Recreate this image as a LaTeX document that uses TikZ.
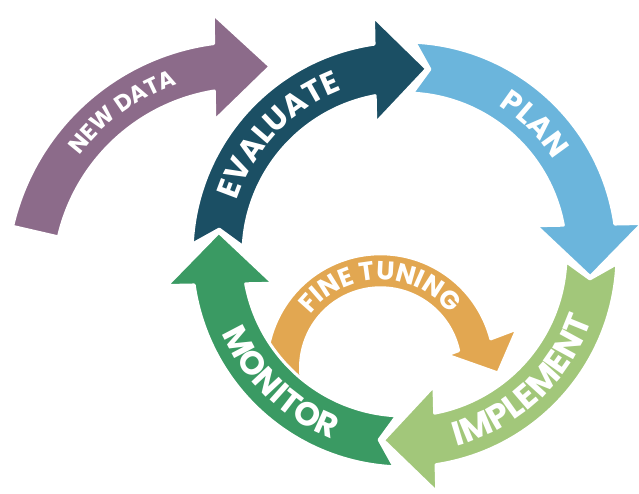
\documentclass[tikz,border=0pt]{standalone}
\usepackage{fontspec}
\newfontfamily\lblfont{Poppins}
\usetikzlibrary{calc,decorations.text}
\definecolor{cpurple}{HTML}{8C6B8A}
\definecolor{cteal}{HTML}{1B4F64}
\definecolor{cblue}{HTML}{6BB5DC}
\definecolor{clgreen}{HTML}{A2C77A}
\definecolor{cgreen}{HTML}{3A9A63}
\definecolor{corange}{HTML}{E2A751}
\tikzset{
  arrowedge/.style={draw=white, line width=3pt, line join=round},
  arclabel/.style n args={2}{decorate, decoration={text along path, text align=center, text color=white,
      text={|\lblfont\bfseries\fontsize{#1}{#1}\selectfont|#2}}}
}
% #1 colour, #2 centre, #3 R, #4 half width, #5 head half width, #6 head angle, #7 tip angle, #8 tail angle, #9 notch angle
\newcommand\ringarrow[9]{%
  \pgfmathsetmacro\ro{#3+#4}%
  \pgfmathsetmacro\ri{#3-#4}%
  \pgfmathsetmacro\bs{#7+#6}%
  \pgfmathsetmacro\bm{#7+#6/2}%
  \pgfmathsetmacro\bn{#7+#6/2+180}%
  \pgfmathsetmacro\oe{\bs-deg(#4*sin(#6/2)/\ro)}%
  \pgfmathsetmacro\ie{\bs+deg(#4*sin(#6/2)/\ri)}%
  \filldraw[fill=#1, arrowedge] ($(#2)+(#8:\ro pt)$) arc[start angle=#8, end angle=\oe, radius=\ro pt]
    -- ($(#2)+(\bs:#3 pt)+(\bm:#5 pt)$) -- ($(#2)+(#7:#3 pt)$) -- ($(#2)+(\bs:#3 pt)+(\bn:#5 pt)$)
    -- ($(#2)+(\ie:\ri pt)$) arc[start angle=\ie, end angle=#8, radius=\ri pt]
    -- ($(#2)+(#9:#3 pt)$) -- cycle;
}
\begin{document}
\begin{tikzpicture}[x=1pt,y=1pt]
\useasboundingbox (0,0) rectangle (639,493);
\coordinate (C) at (404.5,238.5);
\coordinate (P) at (245,213);
\coordinate (O) at (380.5,125.2);
\coordinate (oh1) at (517,164);
\coordinate (otip) at (498,120);
\coordinate (oh2) at (447,138);

% new data
\ringarrow{cpurple}{P}{215}{23.5}{53}{15}{83.3}{167}{167}
% fine tuning
\filldraw[fill=corange, arrowedge] ($(O)+(197:114pt)$) arc[start angle=197, end angle=14.7, radius=114pt]
  -- (oh1) -- (otip) -- (oh2) -- ($(O)+(12.35:80pt)$) arc[start angle=12.35, end angle=197, radius=80pt] -- cycle;
% main cycle
\ringarrow{cteal}{C}{187}{25.5}{53}{16}{83.2}{177.2}{172.2}
\ringarrow{cblue}{C}{187}{25.5}{53}{16}{-6.8}{87.2}{82.2}
\ringarrow{clgreen}{C}{187}{25.5}{53}{16}{-96.5}{-2.5}{-7.5}
\ringarrow{cgreen}{C}{187}{25.5}{53}{16}{173.2}{267.2}{262.2}

% labels
\path[arclabel={31}{EVALUATE}] ($(C)+(196.5:176pt)$) arc[start angle=196.5, end angle=76.5, radius=176pt];
\path[arclabel={30}{PLAN}] ($(C)+(105:176pt)$) arc[start angle=105, end angle=-15, radius=176pt];
\path[arclabel={34}{IMPLEMENT}] ($(C)+(-107:198.5pt)$) arc[start angle=-107, end angle=13, radius=198.5pt];
\path[arclabel={33}{MONITOR}] ($(C)+(166:198.5pt)$) arc[start angle=166, end angle=286, radius=198.5pt];
\path[arclabel={23}{NEW DATA}] ($(P)+(186:207pt)$) arc[start angle=186, end angle=66, radius=207pt];
\path[arclabel={26}{FINE TUNING}] ($(O)+(180.3:88pt)$) arc[start angle=180.3, end angle=0.3, radius=88pt];
\end{tikzpicture}
\end{document}
